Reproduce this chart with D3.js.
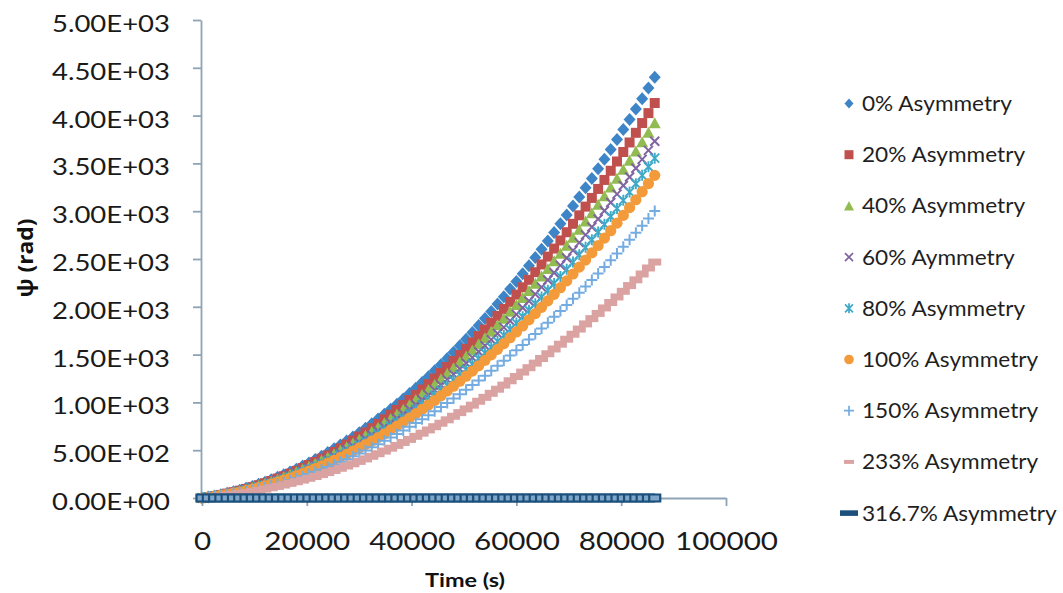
<!DOCTYPE html>
<html><head><meta charset="utf-8">
<script src="https://cdn.jsdelivr.net/npm/d3@7"></script>
<style>body{margin:0;background:#fff}svg{display:block}</style>
</head><body>
<svg id="c" width="1063" height="593"></svg>
<script>
// ---- data ----
const timeS = [0,1200,2400,3600,4800,6000,7200,8400,9600,10800,12000,13200,14400,15600,16800,18000,19200,20400,21600,22800,24000,25200,26400,27600,28800,30000,31200,32400,33600,34800,36000,37200,38400,39600,40800,42000,43200,44400,45600,46800,48000,49200,50400,51600,52800,54000,55200,56400,57600,58800,60000,61200,62400,63600,64800,66000,67200,68400,69600,70800,72000,73200,74400,75600,76800,78000,79200,80400,81600,82800,84000,85200,86400];
const asym0 = [0,10,22,35,49,65,82,101,121,143,166,190,216,243,272,302,334,367,402,437,475,514,554,596,639,683,729,777,826,876,928,981,1036,1092,1149,1208,1269,1331,1394,1459,1525,1592,1661,1732,1804,1877,1952,2028,2106,2185,2265,2347,2430,2515,2602,2689,2778,2869,2961,3054,3149,3246,3343,3443,3543,3645,3749,3854,3960,4068,4177,4288,4400];
const asym20 = [0,9,20,32,46,61,77,95,114,134,155,178,203,228,255,284,314,345,377,411,446,482,520,559,600,642,685,730,775,823,871,921,973,1025,1079,1135,1191,1249,1309,1370,1432,1495,1560,1626,1694,1762,1833,1904,1977,2051,2127,2204,2282,2362,2443,2525,2609,2694,2780,2868,2957,3048,3139,3233,3327,3423,3520,3619,3719,3820,3922,4026,4132];
const asym40 = [0,9,19,31,44,58,73,90,108,127,148,169,192,217,242,269,298,327,358,390,423,458,494,531,569,609,650,692,736,781,827,874,923,973,1024,1077,1130,1185,1242,1300,1358,1419,1480,1543,1607,1672,1739,1807,1876,1947,2018,2091,2166,2241,2318,2396,2476,2556,2638,2722,2806,2892,2979,3067,3157,3248,3340,3434,3528,3625,3722,3821,3920];
const asym60 = [0,9,18,29,42,55,70,85,103,121,140,161,183,206,231,256,283,311,340,371,403,436,470,505,542,580,619,659,700,743,787,832,878,926,975,1025,1076,1128,1182,1237,1293,1350,1409,1468,1529,1592,1655,1720,1785,1853,1921,1990,2061,2133,2206,2280,2356,2433,2511,2590,2671,2752,2835,2919,3005,3091,3179,3268,3358,3450,3542,3636,3731];
const asym80 = [0,8,17,28,40,52,66,81,98,115,134,154,174,197,220,244,270,297,324,353,384,415,448,481,516,552,589,628,667,708,750,793,837,882,929,976,1025,1075,1126,1178,1232,1286,1342,1399,1457,1517,1577,1639,1701,1765,1830,1896,1964,2032,2102,2173,2245,2318,2392,2468,2545,2622,2701,2782,2863,2945,3029,3114,3200,3287,3375,3465,3555];
const asym100 = [0,8,17,27,38,50,63,77,93,109,127,146,166,187,209,232,256,281,308,336,364,394,425,457,490,524,559,596,633,672,712,752,794,837,882,927,973,1020,1069,1119,1169,1221,1274,1328,1383,1440,1497,1555,1615,1676,1737,1800,1864,1929,1995,2063,2131,2200,2271,2343,2415,2489,2564,2641,2719,2796,2875,2956,3037,3120,3204,3289,3375];
const asym150 = [0,7,15,24,33,44,56,69,83,97,113,130,147,166,186,206,228,250,274,298,324,350,378,406,436,466,497,530,563,598,633,669,706,745,784,824,865,907,951,995,1040,1086,1133,1181,1230,1280,1331,1383,1436,1490,1545,1601,1657,1715,1774,1834,1895,1957,2019,2083,2148,2213,2280,2348,2416,2486,2557,2628,2701,2774,2849,2924,3001];
const asym233 = [0,6,12,19,27,36,46,57,68,80,93,107,121,136,153,170,187,206,225,245,266,288,311,334,358,383,409,436,463,491,521,550,581,613,645,678,712,746,782,818,855,893,932,971,1012,1053,1095,1138,1181,1226,1271,1317,1363,1411,1459,1509,1559,1609,1661,1713,1767,1821,1876,1931,1988,2045,2103,2162,2222,2282,2343,2406,2468];
const asym316 = [0,0,0,0,0,0,0,0,0,0,0,0,0,0,0,0,0,0,0,0,0,0,0,0,0,0,0,0,0,0,0,0,0,0,0,0,0,0,0,0,0,0,0,0,0,0,0,0,0,0,0,0,0,0,0,0,0,0,0,0,0,0,0,0,0,0,0,0,0,0,0,0,0];
const seriesNames = ["0% Asymmetry","20% Asymmetry","40% Asymmetry","60% Aymmetry","80% Asymmetry","100% Asymmetry","150% Asymmetry","233% Asymmetry","316.7% Asymmetry"];
const yTicks = [0,500,1000,1500,2000,2500,3000,3500,4000,4500,5000];
const xTicks = [0,20000,40000,60000,80000,100000];

// ---- styles ----
const seriesValues = [asym0,asym20,asym40,asym60,asym80,asym100,asym150,asym233,asym316];
const markerStyles = [
  {d:"M0,-6.5L6,0L0,6.5L-6,0Z", fill:"#3d85c6", stroke:"none"},
  {d:"M-5,-5H5V5H-5Z", fill:"#c0504d", stroke:"none"},
  {d:"M0,-6L6,5H-6Z", fill:"#92bb52", stroke:"none"},
  {d:"M-4.5,-4.5L4.5,4.5M-4.5,4.5L4.5,-4.5", fill:"none", stroke:"#8064a2", sw:2},
  {d:"M-4.5,-4.5L4.5,4.5M-4.5,4.5L4.5,-4.5M0,-5.5V5.5", fill:"none", stroke:"#3fa9c8", sw:1.9},
  {d:"M5.6,0A5.6,5.6 0 1,1 -5.6,0A5.6,5.6 0 1,1 5.6,0Z", fill:"#f39a3a", stroke:"none"},
  {d:"M-5.5,0H5.5M0,-5.5V5.5", fill:"none", stroke:"#74ace2", sw:2},
  {d:"M-6.5,-3.5H6.5V3.5H-6.5Z", fill:"#dba2a2", stroke:"none"},
  {d:"M-5.5,-3.5H5.5V3.5H-5.5Z", fill:"#7fa6c8", stroke:"#1b507c", sw:2.2}
];
const legendStyles = [
  {d:"M0,-5L4.5,0L0,5L-4.5,0Z", fill:"#3d85c6", stroke:"none"},
  {d:"M-4.5,-4.5H4.5V4.5H-4.5Z", fill:"#c0504d", stroke:"none"},
  {d:"M0,-5L5,4.5H-5Z", fill:"#92bb52", stroke:"none"},
  {d:"M-4,-4L4,4M-4,4L4,-4", fill:"none", stroke:"#8064a2", sw:1.7},
  {d:"M-4,-4L4,4M-4,4L4,-4M0,-5V5", fill:"none", stroke:"#3fa9c8", sw:1.7},
  {d:"M4.8,0A4.8,4.8 0 1,1 -4.8,0A4.8,4.8 0 1,1 4.8,0Z", fill:"#f39a3a", stroke:"none"},
  {d:"M-5,0H5M0,-5V5", fill:"none", stroke:"#74ace2", sw:1.7},
  {d:"M-5,-2H5V2H-5Z", fill:"#dba2a2", stroke:"none"},
  {d:"M-9,-2.8H9V2.8H-9Z", fill:"#1b507c", stroke:"none"}
];

const svg = d3.select("#c");
const x = d3.scaleLinear().domain([0,100000]).range([202,726]);
const y = d3.scaleLinear().domain([0,5000]).range([498,20]);
const axisColor = "#8ea4b6";
const font = "Lato, 'Open Sans', sans-serif";

function fmtE(d){
  const s = d3.format(".2e")(d);
  const [m,e] = s.split("e");
  const n = +e;
  return m + "E" + (n<0?"-":"+") + String(Math.abs(n)).padStart(2,"0");
}
function stretchTo(sel, refNode, target){
  const w = refNode.getComputedTextLength();
  const sx = target / w;
  sel.each(function(){
    const t = d3.select(this);
    const tx = +t.attr("x")||0, ty = +t.attr("y")||0;
    t.attr("x",0).attr("y",0).attr("transform",`translate(${tx},${ty}) scale(${sx},1)`);
  });
}

// axes
const gy = svg.append("g").attr("transform","translate(201,0)")
  .call(d3.axisLeft(y).tickValues(yTicks).tickFormat(fmtE).tickSize(8).tickSizeOuter(0));
const gx = svg.append("g").attr("transform","translate(0,498)")
  .call(d3.axisBottom(x).tickValues(xTicks).tickFormat(d3.format("d")).tickSize(8).tickSizeOuter(0));
[gy,gx].forEach(g=>{
  g.select(".domain").attr("stroke",axisColor).attr("stroke-width",1.8);
  g.selectAll(".tick line").attr("stroke",axisColor).attr("stroke-width",1.8);
});
const yt = gy.selectAll(".tick text").attr("x",-31).attr("y",11.5).attr("dy",null)
  .attr("fill","#1a1a1a").style("font-family",font).style("font-size","24px").attr("text-anchor","end");
stretchTo(yt, yt.nodes()[yt.size()-1], 118);
const xt = gx.selectAll(".tick text").attr("y",52).attr("dy",null).attr("x",0)
  .attr("fill","#1a1a1a").style("font-family",font).style("font-size","25px").attr("text-anchor","middle");
stretchTo(xt, xt.nodes()[1], 86);

// series
const plot = svg.append("g");
seriesValues.forEach((vals,si)=>{
  const st = markerStyles[si];
  plot.append("g").selectAll("path").data(timeS.map((t,i)=>[t,vals[i]])).join("path")
    .attr("d",st.d).attr("transform",d=>`translate(${x(d[0])},${y(d[1])})`)
    .attr("fill",st.fill).attr("stroke",st.stroke).attr("stroke-width",st.sw||0);
});

// legend
const leg = svg.append("g");
const legTexts = [];
seriesNames.forEach((name,i)=>{
  const ly = 103.5 + i*51.2;
  const st = legendStyles[i];
  leg.append("path").attr("d",st.d).attr("transform",`translate(849,${ly})`)
    .attr("fill",st.fill).attr("stroke",st.stroke).attr("stroke-width",st.sw||0);
  legTexts.push(leg.append("text").attr("x",862).attr("y",ly+7.5).text(name)
    .attr("fill","#1f1f1f").style("font-family",font).style("font-size","21px").node());
});
stretchTo(d3.selectAll(legTexts), legTexts[0], 150);

// titles
const xtit = svg.append("text").attr("x",465).attr("y",587).attr("text-anchor","middle")
  .text("Time (s)").attr("fill","#111").style("font-family",font).style("font-weight","bold").style("font-size","19px");
stretchTo(xtit, xtit.node(), 80);
const ytit = svg.append("text").attr("transform","translate(33,258) rotate(-90)").attr("text-anchor","middle")
  .text("ψ (rad)").attr("fill","#111").style("font-family","'Open Sans', sans-serif").style("font-weight","bold").style("font-size","22px");
const yw = ytit.node().getComputedTextLength();
ytit.attr("transform",`translate(33,258) rotate(-90) scale(${79/yw},1)`);
</script>
</body></html>
